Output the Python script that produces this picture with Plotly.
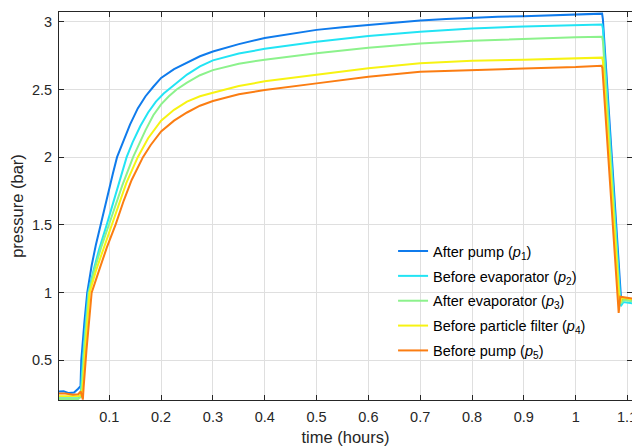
import plotly.graph_objects as go

# ---- data ----
names = [
    "After pump (<i>p</i><sub>1</sub>)",
    "Before evaporator (<i>p</i><sub>2</sub>)",
    "After evaporator (<i>p</i><sub>3</sub>)",
    "Before particle filter (<i>p</i><sub>4</sub>)",
    "Before pump (<i>p</i><sub>5</sub>)",
]
colors = ["#0f7bec", "#22e4f4", "#8cf28c", "#f7f312", "#fb7d12"]

t1 = [0.003, 0.012, 0.022, 0.032, 0.040, 0.0445, 0.046, 0.048, 0.052, 0.0575, 0.066, 0.074, 0.083, 0.091, 0.1, 0.107,
      0.115, 0.125, 0.14, 0.155, 0.17, 0.185, 0.2, 0.225, 0.25, 0.275, 0.3, 0.35, 0.4, 0.45, 0.5, 0.55, 0.6, 0.65,
      0.7, 0.75, 0.8, 0.85, 0.9, 0.95, 1.0, 1.03, 1.051, 1.0525, 1.0855, 1.088, 1.093, 1.1, 1.11]
p1 = [0.27, 0.272, 0.258, 0.262, 0.29, 0.31, 0.50, 0.62, 0.78, 1.0, 1.2, 1.35, 1.5, 1.63, 1.78, 1.88,
      2.0, 2.1, 2.24, 2.36, 2.45, 2.52, 2.585, 2.65, 2.70, 2.745, 2.78, 2.835, 2.88, 2.91, 2.94, 2.96, 2.978, 2.995,
      3.01, 3.02, 3.03, 3.037, 3.04, 3.045, 3.05, 3.055, 3.06, 3.02, 1.0, 0.93, 0.955, 0.95, 0.945]

t2 = [0.003, 0.015, 0.03, 0.04, 0.0445, 0.047, 0.05, 0.055, 0.0595, 0.07, 0.08, 0.095, 0.11, 0.1335, 0.145, 0.16,
      0.175, 0.19, 0.205, 0.225, 0.25, 0.275, 0.3, 0.35, 0.4, 0.5, 0.6, 0.7, 0.8, 0.9, 1.0, 1.051, 1.0525, 1.085,
      1.087, 1.092, 1.1, 1.11]
p2 = [0.22, 0.22, 0.215, 0.22, 0.235, 0.35, 0.55, 0.8, 1.0, 1.17, 1.314, 1.5, 1.70, 2.0, 2.11, 2.23,
      2.33, 2.41, 2.47, 2.53, 2.61, 2.67, 2.715, 2.765, 2.80, 2.852, 2.894, 2.926, 2.95, 2.965, 2.975, 2.98, 2.95, 0.98,
      0.90, 0.93, 0.925, 0.92]

t3 = [0.003, 0.015, 0.03, 0.04, 0.045, 0.048, 0.052, 0.056, 0.0607, 0.07, 0.084, 0.1046, 0.125, 0.146, 0.17, 0.185,
      0.2, 0.215, 0.23, 0.25, 0.275, 0.3, 0.35, 0.4, 0.5, 0.6, 0.7, 0.8, 0.9, 1.0, 1.051, 1.0525, 1.085, 1.087,
      1.093, 1.1, 1.11]
p3 = [0.215, 0.215, 0.21, 0.215, 0.23, 0.35, 0.6, 0.82, 1.0, 1.15, 1.33, 1.56, 1.79, 2.0, 2.2, 2.31,
      2.39, 2.45, 2.50, 2.55, 2.605, 2.643, 2.69, 2.72, 2.767, 2.808, 2.84, 2.86, 2.875, 2.885, 2.89, 2.86, 0.95, 0.92,
      0.945, 0.94, 0.935]

t4 = [0.003, 0.015, 0.03, 0.04, 0.046, 0.049, 0.053, 0.057, 0.062, 0.075, 0.09, 0.108, 0.133, 0.155, 0.175, 0.2,
      0.225, 0.25, 0.275, 0.3, 0.35, 0.4, 0.5, 0.6, 0.7, 0.8, 0.9, 1.0, 1.051, 1.0525, 1.084, 1.086, 1.09, 1.1, 1.11]
p4 = [0.235, 0.235, 0.23, 0.235, 0.245, 0.3, 0.55, 0.78, 1.0, 1.17, 1.34, 1.54, 1.81, 2.0, 2.14, 2.27,
      2.35, 2.41, 2.45, 2.476, 2.525, 2.56, 2.606, 2.656, 2.693, 2.712, 2.72, 2.73, 2.735, 2.71, 0.95, 0.93, 0.96,
      0.955, 0.95]

t5 = [0.003, 0.015, 0.03, 0.04, 0.045, 0.0475, 0.049, 0.0505, 0.053, 0.056, 0.063, 0.066, 0.08, 0.095, 0.112, 0.128,
      0.143, 0.165, 0.18, 0.2, 0.225, 0.25, 0.275, 0.3, 0.35, 0.4, 0.5, 0.6, 0.7, 0.8, 0.9, 1.0, 1.05, 1.0515, 1.083,
      1.086, 1.092, 1.1, 1.11]
p5 = [0.255, 0.255, 0.245, 0.25, 0.27, 0.24, 0.21, 0.30, 0.45, 0.575, 0.87, 1.0, 1.16, 1.33, 1.5, 1.68,
      1.83, 2.0, 2.09, 2.19, 2.27, 2.33, 2.38, 2.415, 2.465, 2.496, 2.545, 2.594, 2.631, 2.645, 2.655, 2.665, 2.675,
      2.66, 0.85, 0.97, 0.965, 0.96, 0.955]

x_ticks = [0.1, 0.2, 0.3, 0.4, 0.5, 0.6, 0.7, 0.8, 0.9, 1.0, 1.1]
x_ticktext = ["0.1", "0.2", "0.3", "0.4", "0.5", "0.6", "0.7", "0.8", "0.9", "1", "1.1"]
y_ticks = [0.5, 1.0, 1.5, 2.0, 2.5, 3.0]
y_ticktext = ["0.5", "1", "1.5", "2", "2.5", "3"]

series_t = [t1, t2, t3, t4, t5]
series_p = [p1, p2, p3, p4, p5]

fig = go.Figure()
for i in range(5):
    fig.add_trace(go.Scatter(x=series_t[i], y=series_p[i], mode="lines", name=names[i],
                             line=dict(color=colors[i], width=2), legendgroup=str(i)))

axis_common = dict(
    ticks="inside", ticklen=5, tickcolor="#262626", tickwidth=1,
    showline=True, linecolor="#262626", linewidth=1, mirror="ticks",
    showgrid=True, gridcolor="#dfdfdf", gridwidth=1, zeroline=False,
    tickfont=dict(size=14.5, color="#262626"),
)

fig.update_layout(
    width=632, height=446,
    margin=dict(l=59, r=0, t=12, b=46),
    plot_bgcolor="white", paper_bgcolor="white",
    font=dict(family="Liberation Sans, Arial, sans-serif", size=14, color="#262626"),
    xaxis=dict(range=[0.003, 1.1087], tickvals=x_ticks, ticktext=x_ticktext, ticklabelstandoff=4,
               title=dict(text="time (hours)", font=dict(size=16.5), standoff=10), **axis_common),
    yaxis=dict(range=[0.207, 3.072], tickvals=y_ticks, ticktext=y_ticktext, ticklabelstandoff=3,
               title=dict(text="pressure (bar)", font=dict(size=16.5), standoff=4), **axis_common),
    legend=dict(x=0.583, y=0.425, xanchor="left", yanchor="top", bgcolor="rgba(0,0,0,0)",
                borderwidth=0, font=dict(size=14.5, color="#000000"), tracegroupgap=3),
    showlegend=True,
)

# the last tick label is cut by the right edge of the figure in the reference
fig.add_annotation(x=x_ticks[-1], xref="x", y=0, yref="paper", yanchor="top", xanchor="center",
                   yshift=-7, text=x_ticktext[-1], showarrow=False,
                   font=dict(size=14.5, color="#262626"))

fig.write_html("out.html")
